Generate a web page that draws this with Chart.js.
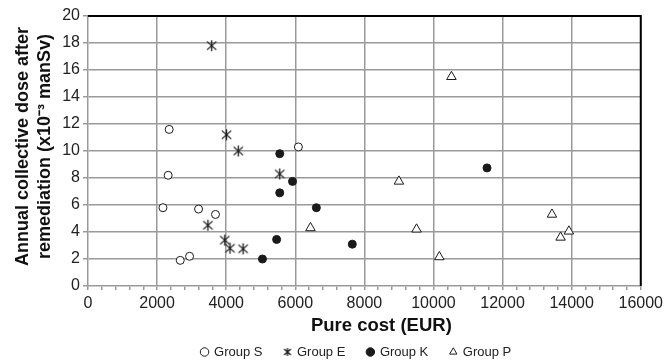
<!DOCTYPE html>
<html>
<head>
<meta charset="utf-8">
<script src="https://cdn.jsdelivr.net/npm/chart.js@4.4.1/dist/chart.umd.min.js"></script>
<style>
    html, body { margin: 0; padding: 0; background: #fff; }
    #wrap { width: 667px; height: 363px; position: relative; }
</style>
</head>
<body>
<div id="wrap"><canvas id="chart"></canvas></div>
<script>
// Values (x = pure cost EUR, y = dose x10^-3 manSv)
const groupS_x = [2170, 3200, 3690, 2670, 2940, 2350, 2320, 6090];
const groupS_y = [5.8, 5.7, 5.3, 1.9, 2.2, 11.6, 8.2, 10.3];

const groupE_x = [3580, 4010, 4350, 5550, 3470, 3960, 4110, 4490];
const groupE_y = [17.8, 11.2, 10.0, 8.3, 4.5, 3.4, 2.8, 2.75];

const groupK_x = [5550, 5920, 5550, 6610, 5460, 5050, 7650, 11550];
const groupK_y = [9.8, 7.75, 6.9, 5.8, 3.45, 2.0, 3.1, 8.75];

const groupP_x = [6440, 10520, 9000, 9510, 10170, 13430, 13680, 13920];
const groupP_y = [4.3, 15.5, 7.75, 4.2, 2.15, 5.3, 3.6, 4.05];

const xTicks = [0, 2000, 4000, 6000, 8000, 10000, 12000, 14000, 16000];
const yTicks = [0, 2, 4, 6, 8, 10, 12, 14, 16, 18, 20];

const INK = '#1a1a1a';
const GRID = '#9a9a9a';
const FONT = 'Liberation Sans, Arial, sans-serif';

function toPoints(xs, ys) {
    return xs.map((x, i) => ({ x, y: ys[i] }));
}

// six-armed asterisk (X plus vertical stroke) like the original marker
function makeAsterisk(size) {
    const c = document.createElement('canvas');
    c.width = size; c.height = size;
    const g = c.getContext('2d');
    const m = size / 2, r = size / 2 - 1;
    g.strokeStyle = INK;
    g.lineWidth = 1.3;
    g.beginPath();
    g.moveTo(m - r * 0.85, m - r * 0.75); g.lineTo(m + r * 0.85, m + r * 0.75);
    g.moveTo(m + r * 0.85, m - r * 0.75); g.lineTo(m - r * 0.85, m + r * 0.75);
    g.moveTo(m, m - r); g.lineTo(m, m + r);
    g.stroke();
    return c;
}
const asterisk = makeAsterisk(13);
const asteriskSmall = makeAsterisk(10);

// black top/right frame of the plot
const frame = {
    id: 'frame',
    afterDatasetsDraw(chart) {
        const { ctx, chartArea: a } = chart;
        ctx.save();
        ctx.strokeStyle = '#000';
        ctx.lineWidth = 2;
        ctx.beginPath();
        ctx.moveTo(a.left, a.top);
        ctx.lineTo(a.right, a.top);
        ctx.lineTo(a.right, a.bottom);
        ctx.stroke();
        ctx.restore();
    }
};

// keep the legend short in the layout while keeping wide item spacing
const LEGEND_H = 26;
const LEGEND_CENTER_Y = 352;
const LEGEND_SHIFT_X = -8;
// the original's axis titles sit a little off-centre
const TITLE_SHIFT = { x: [17, 0], y: [0, -4.5] };

const layoutTweaks = {
    id: 'layoutTweaks',
    afterInit(chart) {
        const lg = chart.legend;
        const orig = lg.fit.bind(lg);
        lg.fit = function () { orig(); this.height = LEGEND_H; };
    },
    afterLayout(chart) {
        const lg = chart.legend;
        const pad = lg.options.labels.padding;
        const fs = lg.options.labels.font.size;
        lg.top = LEGEND_CENTER_Y - pad - fs / 2;
        lg.left += LEGEND_SHIFT_X;
        lg.right += LEGEND_SHIFT_X;

        Object.keys(TITLE_SHIFT).forEach(id => {
            const sc = chart.scales[id];
            if (!sc || sc._titleShifted) return;
            const draw = sc.drawTitle.bind(sc);
            const [dx, dy] = TITLE_SHIFT[id];
            sc.drawTitle = function () {
                const ctx = this.ctx;
                ctx.save();
                ctx.translate(dx, dy);
                draw();
                ctx.restore();
            };
            sc._titleShifted = true;
        });
    }
};

new Chart(document.getElementById('chart'), {
    type: 'scatter',
    data: {
        datasets: [
            { label: 'Group S', data: toPoints(groupS_x, groupS_y), pointStyle: 'circle', pointRadius: 4,
              borderColor: INK, backgroundColor: '#fff', borderWidth: 1 },
            { label: 'Group E', data: toPoints(groupE_x, groupE_y), pointStyle: asterisk, pointRadius: 6,
              borderColor: INK, backgroundColor: INK, borderWidth: 1 },
            { label: 'Group K', data: toPoints(groupK_x, groupK_y), pointStyle: 'circle', pointRadius: 4,
              borderColor: INK, backgroundColor: INK, borderWidth: 1 },
            { label: 'Group P', data: toPoints(groupP_x, groupP_y), pointStyle: 'triangle', pointRadius: 5.5,
              borderColor: INK, backgroundColor: '#fff', borderWidth: 1 }
        ]
    },
    options: {
        responsive: true,
        maintainAspectRatio: false,
        animation: false,
        layout: { padding: { top: 16, right: 26, left: 12, bottom: 0 } },
        plugins: {
            tooltip: { enabled: false },
            legend: {
                position: 'bottom',
                fullSize: false,
                labels: {
                    usePointStyle: true,
                    boxWidth: 6,
                    boxHeight: 6,
                    padding: 22,
                    color: '#222',
                    font: { family: FONT, size: 13 },
                    generateLabels(chart) {
                        const items = Chart.defaults.plugins.legend.labels.generateLabels(chart);
                        items.forEach(it => { if (it.pointStyle === asterisk) it.pointStyle = asteriskSmall; });
                        return items;
                    }
                }
            }
        },
        scales: {
            x: {
                type: 'linear',
                min: 0, max: 16000,
                afterBuildTicks(scale) {
                    const t = [];
                    for (let v = 0; v <= 16000; v += 400) t.push({ value: v });
                    scale.ticks = t;
                },
                afterFit(scale) { scale.height = 51; },
                ticks: {
                    autoSkip: false,
                    maxRotation: 0,
                    color: '#222',
                    padding: 4,
                    font: { family: FONT, size: 16 },
                    callback: v => xTicks.includes(v) ? String(v) : ''
                },
                grid: {
                    color: ctx => (ctx.tick && xTicks.includes(ctx.tick.value) && ctx.tick.value !== 0) ? GRID : 'rgba(0,0,0,0)',
                    tickColor: GRID,
                    lineWidth: 1.5,
                    tickLength: 4
                },
                border: { color: GRID, width: 1.5 },
                title: {
                    display: true,
                    text: 'Pure cost (EUR)',
                    color: '#111',
                    padding: { top: 0, bottom: 0 },
                    font: { family: FONT, size: 18.5, weight: 'bold' }
                }
            },
            y: {
                type: 'linear',
                min: 0, max: 20,
                afterBuildTicks(scale) { scale.ticks = yTicks.map(v => ({ value: v })); },
                afterFit(scale) { scale.width = 76; },
                ticks: {
                    color: '#222',
                    padding: 3,
                    font: { family: FONT, size: 16 }
                },
                grid: {
                    color: ctx => (ctx.tick && ctx.tick.value !== 0) ? GRID : 'rgba(0,0,0,0)',
                    tickColor: GRID,
                    lineWidth: 1.5,
                    tickLength: 5
                },
                border: { color: GRID, width: 1.5 },
                title: {
                    display: true,
                    text: ['Annual collective dose after', 'remediation (x10\u207B\u00B3 manSv)'],
                    color: '#111',
                    padding: { top: 0, bottom: 0 },
                    font: { family: FONT, size: 18, weight: 'bold', lineHeight: 1.22 }
                }
            }
        }
    },
    plugins: [frame, layoutTweaks]
});
</script>
</body>
</html>
